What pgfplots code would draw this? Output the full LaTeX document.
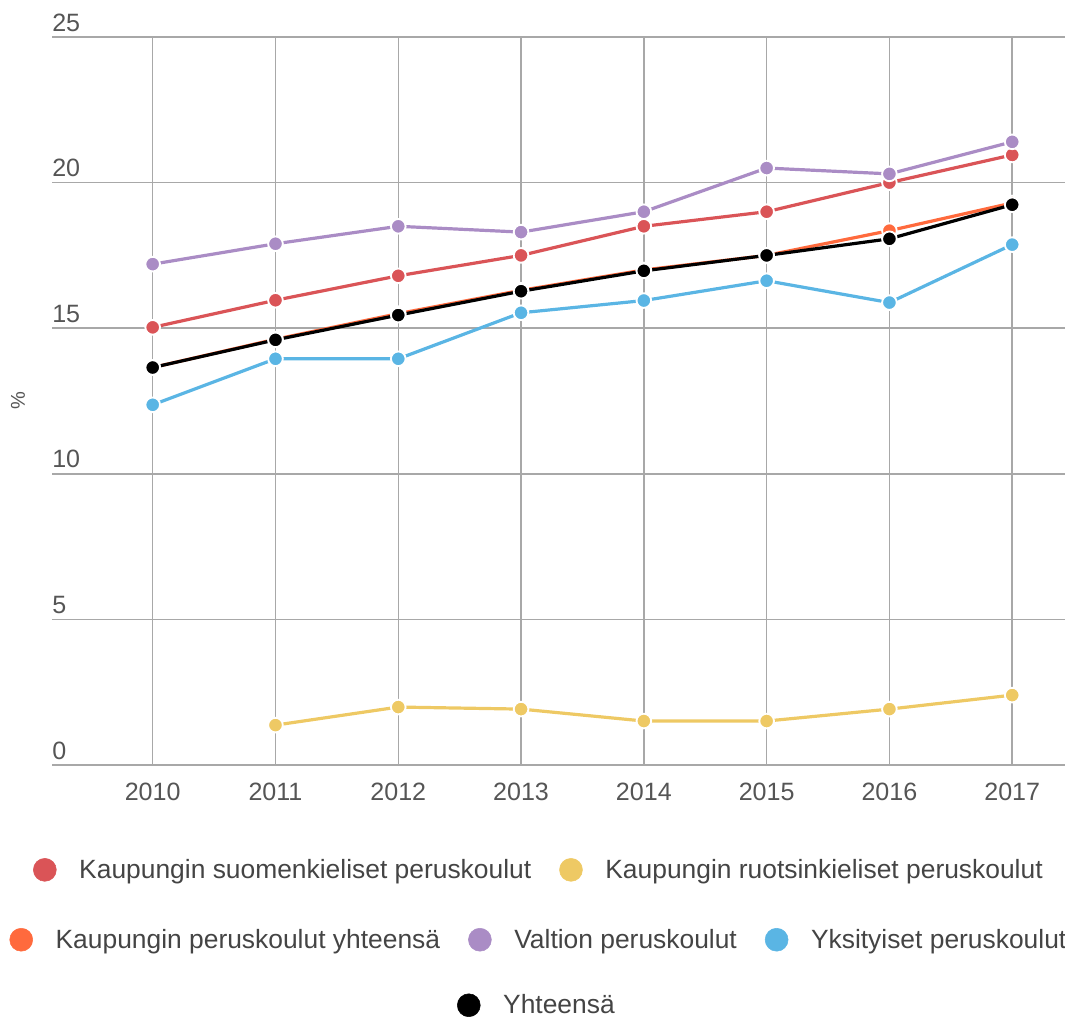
\documentclass[border=0pt]{standalone}
\usepackage{pgfplots}
\pgfplotsset{compat=1.18}
\usepackage{fontspec}
\setmainfont{Liberation Sans}
\definecolor{cred}{HTML}{DA5457}
\definecolor{cyel}{HTML}{EEC964}
\definecolor{cora}{HTML}{FF6A3D}
\definecolor{cpur}{HTML}{AA8CC5}
\definecolor{cblu}{HTML}{5AB5E4}
\definecolor{cgrid}{HTML}{A8A8A8}
\definecolor{ctext}{HTML}{555555}
\definecolor{clegt}{HTML}{444444}
\pgfplotsset{
  legaxis/.style={
    at={(39pt,-27.75pt)}, anchor=north west,
    width=759.75pt, height=546pt, scale only axis,
    xmin=0, xmax=1, ymin=0, ymax=1, hide axis,
    legend image code/.code={\fill[##1] (0pt,0pt) circle (8.6pt);},
    legend style={draw=none, fill=none, font=\fontsize{19.8}{23}\selectfont\color{clegt},
      legend columns=-1, anchor=center,
      /tikz/every odd column/.append style={column sep=15pt},
      /tikz/every even column/.append style={column sep=19pt}},
  },
  ser/.style={line width=2.4pt, mark=*, mark size=5.5pt,
    mark options={draw=white, line width=1.4pt, fill=#1}, draw=#1},
}
\begin{document}
\begin{tikzpicture}
\useasboundingbox (0,0) rectangle (798.75pt,-766.5pt);
\begin{axis}[
  at={(39pt,-27.75pt)}, anchor=north west,
  width=759.75pt, height=546pt, scale only axis,
  xmin=2009.18, xmax=2017.43, ymin=0, ymax=25,
  xtick={2010,2011,...,2017}, ytick={0,5,...,25},
  grid=major, major grid style={cgrid, line width=1.1pt},
  axis line style={draw=none}, major tick length=0pt,
  /pgf/number format/1000 sep={}, /pgf/number format/assume math mode=true,
  tick label style={font=\fontsize{18.8}{22}\selectfont\color{ctext}},
  yticklabel style={anchor=south west, inner sep=0pt, yshift=4pt},
  xticklabel style={anchor=north, inner sep=0pt, yshift=-13pt},
  ylabel={\%}, ylabel style={at={(axis description cs:-0.0336,0.5)}, anchor=center, font=\fontsize{15}{18}\selectfont\color{ctext}},
  clip=false,
]
\addplot[ser=cred] coordinates {(2010,15.03)(2011,15.96)(2012,16.8)(2013,17.5)(2014,18.5)(2015,19.0)(2016,20.0)(2017,20.95)};
\addplot[ser=cyel] coordinates {(2011,1.37)(2012,1.99)(2013,1.92)(2014,1.51)(2015,1.51)(2016,1.92)(2017,2.4)};
\addplot[ser=cora] coordinates {(2010,13.65)(2011,14.62)(2012,15.5)(2013,16.3)(2014,17.0)(2015,17.5)(2016,18.35)(2017,19.3)};
\addplot[ser=cpur] coordinates {(2010,17.2)(2011,17.9)(2012,18.5)(2013,18.3)(2014,19.0)(2015,20.5)(2016,20.3)(2017,21.4)};
\addplot[ser=cblu] coordinates {(2010,12.37)(2011,13.95)(2012,13.95)(2013,15.53)(2014,15.95)(2015,16.63)(2016,15.88)(2017,17.87)};
\addplot[ser=black] coordinates {(2010,13.65)(2011,14.6)(2012,15.45)(2013,16.27)(2014,16.97)(2015,17.5)(2016,18.07)(2017,19.24)};
\end{axis}
\begin{axis}[legaxis, legend style={at={(axis description cs:0.481,-0.144)}}]
\addlegendimage{cred}\addlegendentry{Kaupungin suomenkieliset peruskoulut}
\addlegendimage{cyel}\addlegendentry{Kaupungin ruotsinkieliset peruskoulut}
\end{axis}
\begin{axis}[legaxis, legend style={at={(axis description cs:0.481,-0.240)}}]
\addlegendimage{cora}\addlegendentry{Kaupungin peruskoulut yhteensä}
\addlegendimage{cpur}\addlegendentry{Valtion peruskoulut}
\addlegendimage{cblu}\addlegendentry{Yksityiset peruskoulut}
\end{axis}
\begin{axis}[legaxis, legend style={at={(axis description cs:0.479,-0.330)}}]
\addlegendimage{black}\addlegendentry{Yhteensä}
\end{axis}
\end{tikzpicture}
\end{document}
